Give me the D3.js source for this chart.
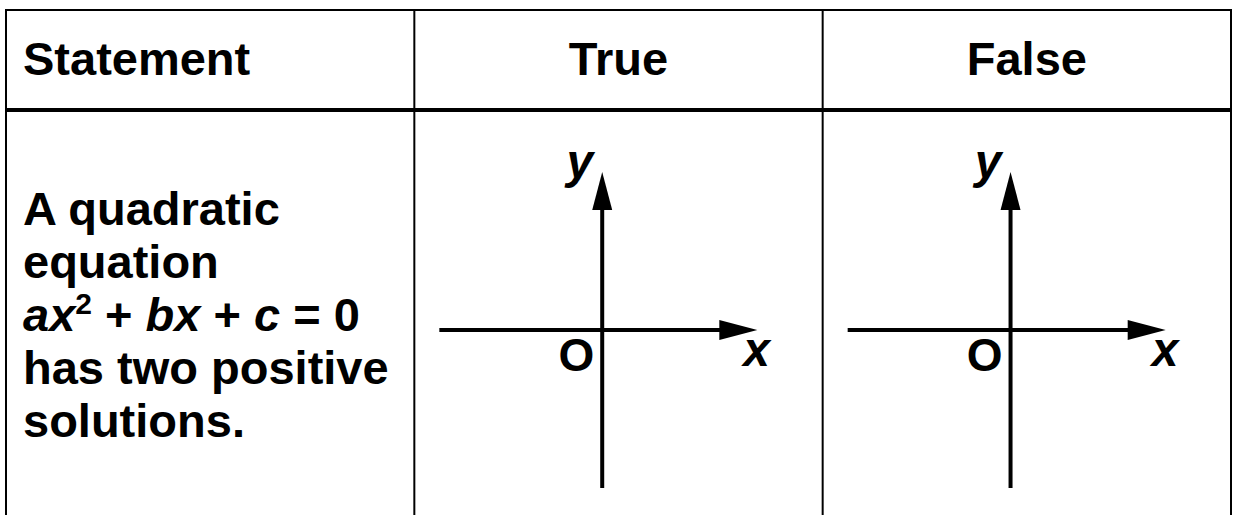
<!DOCTYPE html>
<html>
<head>
<meta charset="utf-8">
<script src="https://cdn.jsdelivr.net/npm/d3@7"></script>
<style>
body { margin: 0; background: #fff; }
svg { display: block; }
text { font-family: "Liberation Sans", Arial, Helvetica, sans-serif; font-weight: bold; fill: #000; }
</style>
</head>
<body>
<svg id="chart"></svg>
<script>
// table content
var headers = ["Statement", "True", "False"];
var statementLines = ["A quadratic", "equation", "EQ", "has two positive", "solutions."];
var equationParts = [
	{ t: "ax", italic: true },
	{ t: "2", sup: true },
	{ t: " + ", back: true },
	{ t: "bx", italic: true },
	{ t: " + " },
	{ t: "c", italic: true },
	{ t: " = 0" }
];
var diagramCols = ["True", "False"];
var axisNames = ["x", "y", "O"];
var xDomain = [-1.05, 1];
var yDomain = [-1, 1];

var width = 1235, height = 515;
var svg = d3.select("#chart").attr("width", width).attr("height", height);

var col = d3.scaleBand().domain(headers).range([6, 1231]);
var tableTop = 10, headLine = 110;

// grid lines
var edges = headers.map(function(h) { return col(h); }).concat([col.range()[1]]);
svg.selectAll("line.vline").data(edges).enter().append("line")
	.attr("x1", function(d) { return d; }).attr("x2", function(d) { return d; })
	.attr("y1", tableTop - 1).attr("y2", height)
	.attr("stroke", "#000").attr("stroke-width", 2);
svg.append("line").attr("x1", 5).attr("x2", 1232).attr("y1", tableTop).attr("y2", tableTop)
	.attr("stroke", "#000").attr("stroke-width", 2);
svg.append("line").attr("x1", 5).attr("x2", 1232).attr("y1", headLine).attr("y2", headLine)
	.attr("stroke", "#000").attr("stroke-width", 4);

// headers
svg.selectAll("text.head").data(headers).enter().append("text")
	.attr("x", function(d, i) { return i === 0 ? col(d) + 17 : col(d) + col.bandwidth() / 2; })
	.attr("y", 75)
	.attr("text-anchor", function(d, i) { return i === 0 ? "start" : "middle"; })
	.style("font-size", "47px")
	.text(function(d) { return d; });

// statement text
var lineY = d3.scaleLinear().domain([0, statementLines.length - 1]).range([225, 437]);
statementLines.forEach(function(s, i) {
	var t = svg.append("text").attr("x", col("Statement") + 17).attr("y", lineY(i))
		.style("font-size", "47px");
	if (s !== "EQ") { t.text(s); return; }
	equationParts.forEach(function(p) {
		var ts = t.append("tspan").text(p.t);
		if (p.italic) ts.style("font-style", "italic");
		if (p.sup) ts.style("font-size", "30px").attr("dy", -17);
		if (p.back) ts.attr("dy", 17);
	});
});

// axes diagrams
var x = d3.scaleLinear().domain(xDomain).range([25, 343]);
var y = d3.scaleLinear().domain(yDomain).range([488, 172]);
var headLen = 38, headHalf = 10;

diagramCols.forEach(function(c) {
	var g = svg.append("g").attr("transform", "translate(" + col(c) + ",0)");
	var ox = x(0), oy = y(0);
	var xEnd = x(xDomain[1]), yEnd = y(yDomain[1]);

	g.append("line").attr("x1", x(xDomain[0])).attr("x2", xEnd - headLen + 1)
		.attr("y1", oy).attr("y2", oy).attr("stroke", "#000").attr("stroke-width", 4);
	g.append("line").attr("x1", ox).attr("x2", ox)
		.attr("y1", y(yDomain[0])).attr("y2", yEnd + headLen - 1)
		.attr("stroke", "#000").attr("stroke-width", 4);

	g.append("path").attr("d", d3.line()([[xEnd, oy], [xEnd - headLen, oy - headHalf], [xEnd - headLen, oy + headHalf]]) + "Z");
	g.append("path").attr("d", d3.line()([[ox, yEnd], [ox - headHalf, yEnd + headLen], [ox + headHalf, yEnd + headLen]]) + "Z");

	g.append("text").attr("x", xEnd - 14).attr("y", oy + 36)
		.style("font-size", "48px").style("font-style", "italic").text(axisNames[0]);
	g.append("text").attr("x", ox - 9).attr("y", yEnd + 6).attr("text-anchor", "end")
		.style("font-size", "48px").style("font-style", "italic").text(axisNames[1]);
	g.append("text").attr("x", ox - 8).attr("y", oy + 41).attr("text-anchor", "end")
		.style("font-size", "46px").text(axisNames[2]);
});
</script>
</body>
</html>
